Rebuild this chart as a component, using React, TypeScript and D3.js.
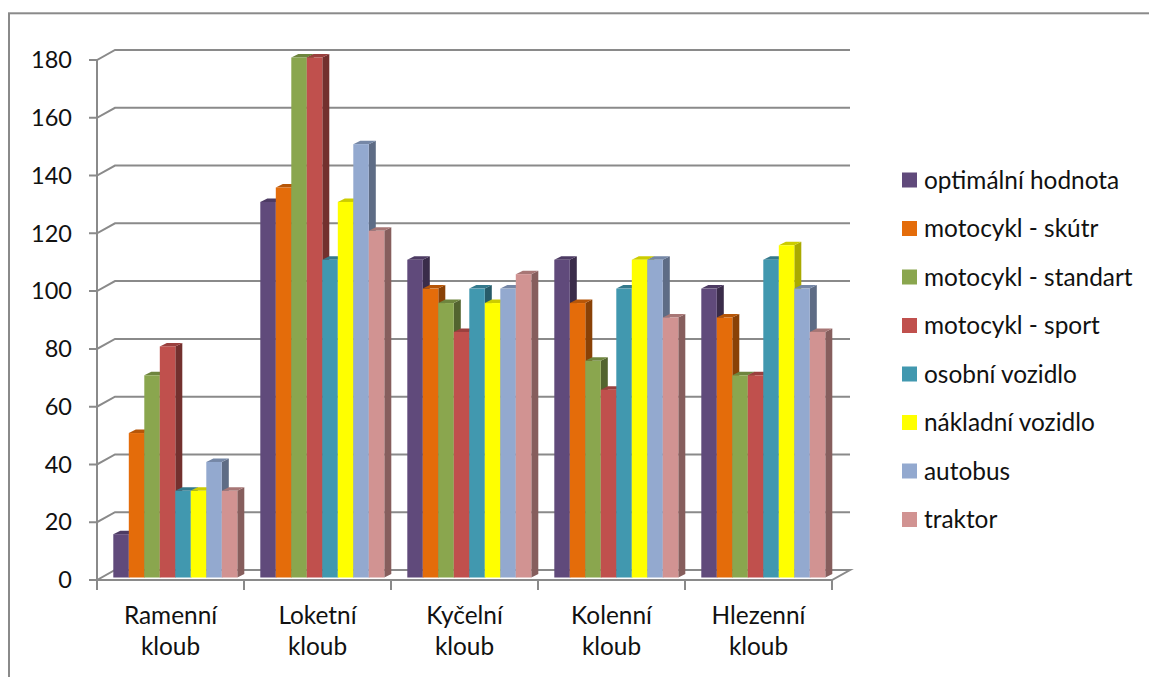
import React from "react";
import * as d3 from "d3";

const categories = [
  ["Ramenní", "kloub"],
  ["Loketní", "kloub"],
  ["Kyčelní", "kloub"],
  ["Kolenní", "kloub"],
  ["Hlezenní", "kloub"],
];
const seriesNames = [
  "optimální hodnota",
  "motocykl - skútr",
  "motocykl - standart",
  "motocykl - sport",
  "osobní vozidlo",
  "nákladní vozidlo",
  "autobus",
  "traktor",
];
const optimal = [15, 130, 110, 110, 100];
const scooter = [50, 135, 100, 95, 90];
const standard = [70, 180, 95, 75, 70];
const sport = [80, 180, 85, 65, 70];
const car = [30, 110, 100, 100, 110];
const truck = [30, 130, 95, 110, 115];
const bus = [40, 150, 100, 110, 100];
const tractor = [30, 120, 105, 90, 85];
const seriesValues = [optimal, scooter, standard, sport, car, truck, bus, tractor];
const frontColors = ["#604A7B", "#E46C0A", "#8AA64E", "#C0504D", "#4198AF", "#FFFF00", "#93A9CF", "#D19392"];
const topColors = ["#4D3B63", "#B65608", "#6E853E", "#9A403E", "#34798C", "#CCCC00", "#7587A6", "#A77675"];
const sideColors = ["#3A2C4A", "#894106", "#53642F", "#73302E", "#275B69", "#AAAA00", "#5E6C85", "#865E5D"];
const yTicks = d3.range(0, 181, 20);

const FONT = "Lato, 'Open Sans', sans-serif";
const GRID = "#8A8A8A";

// Oblique offset of the 3D walls and of each bar's depth.
const WALL_DX = 18;
const WALL_DY = -10;
const BAR_DX = 7;
const BAR_DY = -3.5;

export default function App() {
  const x = d3.scaleBand<number>().domain(d3.range(categories.length)).range([97, 832]);
  const inner = d3
    .scaleBand<number>()
    .domain(d3.range(seriesNames.length))
    .range([16.3, 16.3 + 124]);
  const yAxis = d3.scaleLinear().domain([0, 180]).range([580, 60]);
  // Bars stand slightly behind the front edge of the floor.
  const yBar = d3.scaleLinear().domain([0, 180]).range([577.5, 57.5]);
  const legendY = d3
    .scalePoint<number>()
    .domain(d3.range(seriesNames.length))
    .range([180, 180 + 48.5 * 7]);
  const xTicks = [...x.domain().map((i) => x(i) as number), 832];

  return (
    <svg
      width={1149}
      height={677}
      style={{ position: "absolute", left: 0, top: 0, background: "#fff" }}
      fontFamily={FONT}
    >
      {/* The outer frame runs off the right and bottom of the canvas. */}
      <rect x={9} y={13.3} width={1200} height={720} fill="#fff" stroke={GRID} strokeWidth={2} />

      <g fill="none" stroke={GRID} strokeWidth={2}>
        {yTicks.map((t) => {
          const y = yAxis(t);
          return (
            <path
              key={t}
              d={`M89,${y}H97L${97 + WALL_DX},${y + WALL_DY}H${832 + WALL_DX}${
                t === 0 ? `L832,${y}H97` : ""
              }`}
            />
          );
        })}
        <path d={`M97,${yAxis(180)}V${yAxis(0)}`} />
        {xTicks.map((v) => (
          <path key={v} d={`M${v},580V590`} />
        ))}
      </g>

      {categories.map((_, c) =>
        seriesNames.map((_, s) => {
          const left = (x(c) as number) + (inner(s) as number);
          const w = inner.bandwidth();
          const top = yBar(seriesValues[s][c]);
          const base = yBar(0);
          return (
            <g key={`${c}-${s}`}>
              <path
                d={`M${left + w},${top}l${BAR_DX},${BAR_DY}V${base + BAR_DY}l${-BAR_DX},${-BAR_DY}Z`}
                fill={sideColors[s]}
              />
              <path
                d={`M${left},${top}l${BAR_DX},${BAR_DY}h${w}l${-BAR_DX},${-BAR_DY}Z`}
                fill={topColors[s]}
              />
              <rect x={left} y={top} width={w} height={base - top} fill={frontColors[s]} />
            </g>
          );
        })
      )}

      <g fontSize={24.4} fill="#111">
        {yTicks.map((t) => (
          <text key={t} x={72} y={yAxis(t)} dy="0.35em" textAnchor="end" fontSize={23.5}>
            {t}
          </text>
        ))}
        {categories.map((lines, c) =>
          lines.map((line, i) => (
            <text
              key={line + c}
              x={(x(c) as number) + x.bandwidth() / 2}
              y={624 + i * 31}
              textAnchor="middle"
            >
              {line}
            </text>
          ))
        )}
        {seriesNames.map((name, s) => (
          <g key={name}>
            <rect x={902} y={(legendY(s) as number) - 7.5} width={15} height={15} fill={frontColors[s]} />
            <text x={924} y={legendY(s) as number} dy="0.35em">
              {name}
            </text>
          </g>
        ))}
      </g>
    </svg>
  );
}
